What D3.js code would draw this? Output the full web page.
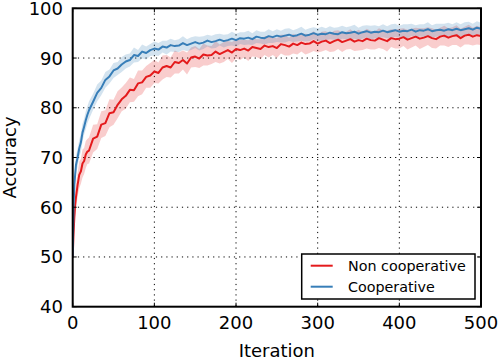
<!DOCTYPE html>
<html>
<head>
<meta charset="utf-8">
<script src="https://cdn.jsdelivr.net/npm/d3@7"></script>
<style>
  body { margin: 0; background: #fff; }
  text { font-family: "DejaVu Sans", sans-serif; fill: #000; }
</style>
</head>
<body>
<svg id="chart" width="499" height="364"></svg>
<script>
// iterations where the curves were sampled
var iters = [0, 1, 2, 3, 4, 6, 8, 10, 12, 14, 16, 18].concat(d3.range(20, 501, 5));

// Non cooperative (red)
var nonCoop = [
  50, 54.5, 58, 60.5, 62, 64.5, 66.5, 67.2, 68.8, 69.3, 70.6, 71.2,
  71.4, 73.8, 74.2, 76.6, 76.9, 78.9, 79.1, 80.6, 81.7, 82.4, 83.6, 83.5, 84.9, 85.1, 86.2, 86.5, 87.3,
  87.0, 88.1, 88.4, 88.1, 89.2, 89.0, 89.6, 88.9, 90.1, 90.3,
  89.9, 90.7, 90.5, 90.6, 91.3, 90.8, 91.2, 91.6, 91.1, 91.8,
  91.6, 91.9, 91.5, 92.2, 92.0, 91.8, 92.5, 92.2, 92.4, 92.0,
  92.8, 92.6, 92.3, 92.9, 92.6, 93.1, 92.8, 92.9, 93.4, 92.9,
  93.3, 93.5, 93.0, 93.4, 93.7, 93.2, 93.5, 93.8, 93.3, 93.6,
  93.4, 93.9, 93.6, 93.5, 94.0, 93.7, 93.4, 94.0, 93.8, 93.9,
  94.2, 93.7, 94.0, 94.3, 93.9, 94.1, 94.4, 94.0, 93.8, 94.3,
  94.5, 94.1, 94.4, 94.6, 94.0, 94.5, 94.7, 94.3, 94.6, 94.4
];
var nonCoopStd = [
  0.5, 1.5, 2.2, 2.5, 2.6, 2.4, 2.7, 2.5, 2.8, 2.6, 2.7, 2.5,
  2.6, 2.8, 2.5, 2.7, 2.6, 2.8, 2.5, 2.7, 2.4, 2.6, 2.5, 2.3, 2.6, 2.4, 2.2, 2.5, 2.3,
  2.1, 2.4, 2.2, 2.0, 2.3, 2.1, 1.9, 2.2, 2.0, 2.1,
  1.9, 2.2, 2.0, 1.8, 2.1, 1.9, 2.0, 1.8, 2.1, 1.9,
  2.0, 1.8, 2.1, 1.9, 1.8, 2.0, 1.9, 2.1, 1.8, 2.0,
  1.9, 2.1, 1.8, 2.0, 1.9, 1.8, 2.1, 1.9, 2.0, 1.8,
  2.0, 1.9, 1.8, 2.1, 1.9, 2.0, 1.8, 2.0, 1.9, 2.1,
  1.8, 2.0, 1.9, 1.8, 2.0, 1.9, 2.1, 1.8, 1.9, 2.0,
  1.8, 2.0, 1.9, 1.8, 2.1, 1.9, 1.8, 2.0, 1.9, 1.8,
  2.0, 1.9, 1.8, 2.0, 1.9, 1.8, 2.0, 1.8, 1.9, 1.8
];

// Cooperative (blue)
var coop = [
  50, 60, 64.5, 66.5, 68.5, 70, 71.8, 73, 75, 76.2, 77.5, 78.6,
  79.5, 81.2, 83.0, 84.0, 85.6, 86.3, 87.5, 87.9, 88.7, 89.3, 89.6, 90.6, 90.4, 91.3, 91.0, 91.6, 91.9,
  91.7, 92.3, 92.1, 92.6, 92.4, 92.5, 93.0, 92.6, 92.9, 93.2,
  92.9, 93.1, 93.5, 93.2, 93.4, 93.7, 93.4, 93.6, 93.9, 93.6,
  94.0, 93.9, 94.1, 93.8, 94.3, 94.1, 94.0, 94.4, 94.2, 94.5,
  94.3, 94.5, 94.7, 94.4, 94.6, 94.9, 94.5, 94.7, 95.0, 94.7,
  94.9, 94.8, 95.1, 94.9, 94.8, 95.2, 95.0, 95.1, 95.3, 94.9,
  95.2, 95.4, 95.1, 95.3, 95.2, 95.5, 95.2, 95.4, 95.6, 95.3,
  95.5, 95.4, 95.7, 95.3, 95.6, 95.5, 95.8, 95.4, 95.6, 95.7,
  95.5, 95.8, 95.6, 95.9, 95.6, 95.8, 96.0, 95.7, 96.1, 95.9
];
var coopStd = [
  0.5, 1.6, 1.8, 1.7, 1.9, 1.8, 1.7, 1.9, 1.8, 1.6, 1.8, 1.7,
  1.8, 1.6, 1.7, 1.5, 1.6, 1.4, 1.5, 1.3, 1.5, 1.4, 1.3, 1.5, 1.2, 1.4, 1.3, 1.2, 1.4,
  1.3, 1.2, 1.4, 1.3, 1.2, 1.3, 1.4, 1.2, 1.3, 1.2,
  1.4, 1.3, 1.2, 1.3, 1.4, 1.2, 1.3, 1.2, 1.4, 1.3,
  1.2, 1.3, 1.4, 1.2, 1.3, 1.2, 1.3, 1.4, 1.2, 1.3,
  1.2, 1.4, 1.3, 1.2, 1.3, 1.4, 1.2, 1.3, 1.2, 1.3,
  1.4, 1.2, 1.3, 1.2, 1.4, 1.3, 1.2, 1.3, 1.4, 1.2,
  1.3, 1.2, 1.4, 1.3, 1.2, 1.3, 1.2, 1.4, 1.3, 1.2,
  1.3, 1.4, 1.2, 1.3, 1.2, 1.3, 1.4, 1.2, 1.3, 1.2,
  1.4, 1.3, 1.2, 1.3, 1.2, 1.4, 1.3, 1.2, 1.3, 1.2
];

var xTicks = [0, 100, 200, 300, 400, 500];
var yTicks = [40, 50, 60, 70, 80, 90, 100];
var seriesNames = ["Non cooperative", "Cooperative"];
var colors = ["#e41a1c", "#377eb8"];

var svg = d3.select("#chart");
var L = 72.7, R = 481, T = 8.3, B = 306.7;
var x = d3.scaleLinear().domain([0, 500]).range([L, R]);
var y = d3.scaleLinear().domain([40, 100]).range([B, T]);

svg.append("defs").append("clipPath").attr("id", "clip")
  .append("rect").attr("x", L).attr("y", T).attr("width", R - L).attr("height", B - T);

// grid
var grid = svg.append("g").attr("stroke", "#000").attr("stroke-width", 1).attr("stroke-dasharray", "1.2,4");
grid.selectAll(".gx").data(xTicks.slice(1, -1)).enter().append("line")
  .attr("x1", d => x(d)).attr("x2", d => x(d)).attr("y1", T).attr("y2", B);
grid.selectAll(".gy").data(yTicks.slice(1, -1)).enter().append("line")
  .attr("x1", L).attr("x2", R).attr("y1", d => y(d)).attr("y2", d => y(d));

var series = [
  { name: seriesNames[0], vals: nonCoop, std: nonCoopStd, color: colors[0] },
  { name: seriesNames[1], vals: coop, std: coopStd, color: colors[1] }
];

var plot = svg.append("g").attr("clip-path", "url(#clip)");
var area = d3.area().x(d => x(d.it)).y0(d => y(d.v - d.s)).y1(d => y(d.v + d.s));
var line = d3.line().x(d => x(d.it)).y(d => y(d.v));

series.forEach(function (s) {
  var pts = iters.map((it, i) => ({ it: it, v: s.vals[i], s: s.std[i] }));
  plot.append("path").datum(pts).attr("d", area)
    .attr("fill", s.color).attr("fill-opacity", 0.22).attr("stroke", "none");
});
series.forEach(function (s) {
  var pts = iters.map((it, i) => ({ it: it, v: s.vals[i], s: s.std[i] }));
  plot.append("path").datum(pts).attr("d", line)
    .attr("fill", "none").attr("stroke", s.color).attr("stroke-width", 2)
    .attr("stroke-linejoin", "round");
});

// axes: inward ticks on all sides
var ax = svg.append("g").attr("stroke", "#000").attr("stroke-width", 1);
xTicks.forEach(function (t) {
  ax.append("line").attr("x1", x(t)).attr("x2", x(t)).attr("y1", B).attr("y2", B - 4);
  ax.append("line").attr("x1", x(t)).attr("x2", x(t)).attr("y1", T).attr("y2", T + 4);
});
yTicks.forEach(function (t) {
  ax.append("line").attr("x1", L).attr("x2", L + 4).attr("y1", y(t)).attr("y2", y(t));
  ax.append("line").attr("x1", R).attr("x2", R - 4).attr("y1", y(t)).attr("y2", y(t));
});

svg.append("rect").attr("x", L).attr("y", T).attr("width", R - L).attr("height", B - T)
  .attr("fill", "none").attr("stroke", "#000").attr("stroke-width", 2);

svg.selectAll(".xl").data(xTicks).enter().append("text")
  .attr("x", d => x(d)).attr("y", 329).attr("text-anchor", "middle")
  .attr("font-size", 18).text(d => d);
svg.selectAll(".yl").data(yTicks).enter().append("text")
  .attr("x", 63).attr("y", d => y(d) + 6.5).attr("text-anchor", "end")
  .attr("font-size", 18).text(d => d);

svg.append("text").attr("x", (L + R) / 2).attr("y", 357).attr("text-anchor", "middle")
  .attr("font-size", 18).text("Iteration");
svg.append("text").attr("transform", "translate(16," + ((T + B) / 2) + ") rotate(-90)")
  .attr("text-anchor", "middle").attr("font-size", 18).text("Accuracy");

// legend
var lg = svg.append("g");
lg.append("rect").attr("x", 301.7).attr("y", 254).attr("width", 173.3).attr("height", 45)
  .attr("fill", "#fff").attr("stroke", "#000").attr("stroke-width", 1.5);
series.forEach(function (s, i) {
  var cy = 265.7 + i * 21;
  lg.append("line").attr("x1", 310.7).attr("x2", 332.7).attr("y1", cy).attr("y2", cy)
    .attr("stroke", s.color).attr("stroke-width", 2);
  lg.append("text").attr("x", 348).attr("y", cy + 5).attr("font-size", 14.3).text(s.name);
});
</script>
</body>
</html>
